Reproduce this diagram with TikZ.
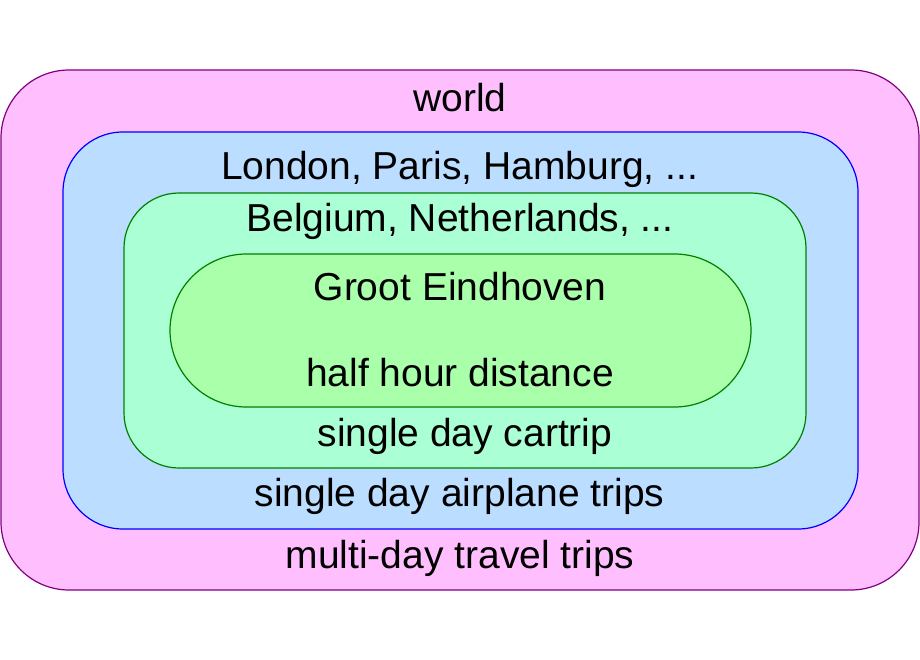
\documentclass[tikz,border=0pt]{standalone}
\usepackage{fontspec}
\setmainfont{Liberation Sans}
\usetikzlibrary{positioning}

\definecolor{worldfill}{HTML}{FFBFFF}
\definecolor{worlddraw}{HTML}{800080}
\definecolor{airfill}{HTML}{BBDDFF}
\definecolor{airdraw}{HTML}{0000FF}
\definecolor{carfill}{HTML}{AAFFD5}
\definecolor{cardraw}{HTML}{008000}
\definecolor{localfill}{HTML}{AAFFAA}
\definecolor{localdraw}{HTML}{007F00}

\begin{document}
\begin{tikzpicture}[x=1pt,y=-1pt,every node/.append style={font=\fontsize{39}{45}\selectfont},zone/.style={draw, line width=1.2pt, inner sep=0pt},lbl/.style={anchor=base, inner sep=0pt}]
    \useasboundingbox (0,0) rectangle (920,660);
    % nested areas
    \node [zone, fill=worldfill, draw=worlddraw, rounded corners=68pt, minimum width=918pt, minimum height=520pt] (world) at (460,330) {};
    \node [zone, fill=airfill, draw=airdraw, rounded corners=60pt, minimum width=795pt, minimum height=397pt] (air) at (460.5,330.5) {};
    \node [zone, fill=carfill, draw=cardraw, rounded corners=55pt, minimum width=682pt, minimum height=275pt] (car) at (465,330.5) {};
    \node [zone, fill=localfill, draw=localdraw, rounded corners=76.5pt, minimum width=581pt, minimum height=153pt] (local) at (460.5,330.5) {};
    
    % labels
    \node [lbl] (worldtop) at (460,112) {world};
    \node [lbl] (airtop) at (459.5,180) {London, Paris, Hamburg, ...};
    \node [lbl] (cartop) at (460,232) {Belgium, Netherlands, ...};
    \node [lbl] (localtop) at (460,300) {Groot Eindhoven};
    \node [lbl] (localbot) at (460,386) {half hour distance};
    \node [lbl] (carbot) at (465,446) {single day cartrip};
    \node [lbl] (airbot) at (459.5,506) {single day airplane trips};
    \node [lbl] (worldbot) at (460,568) {multi-day travel trips};
\end{tikzpicture}
\end{document}
